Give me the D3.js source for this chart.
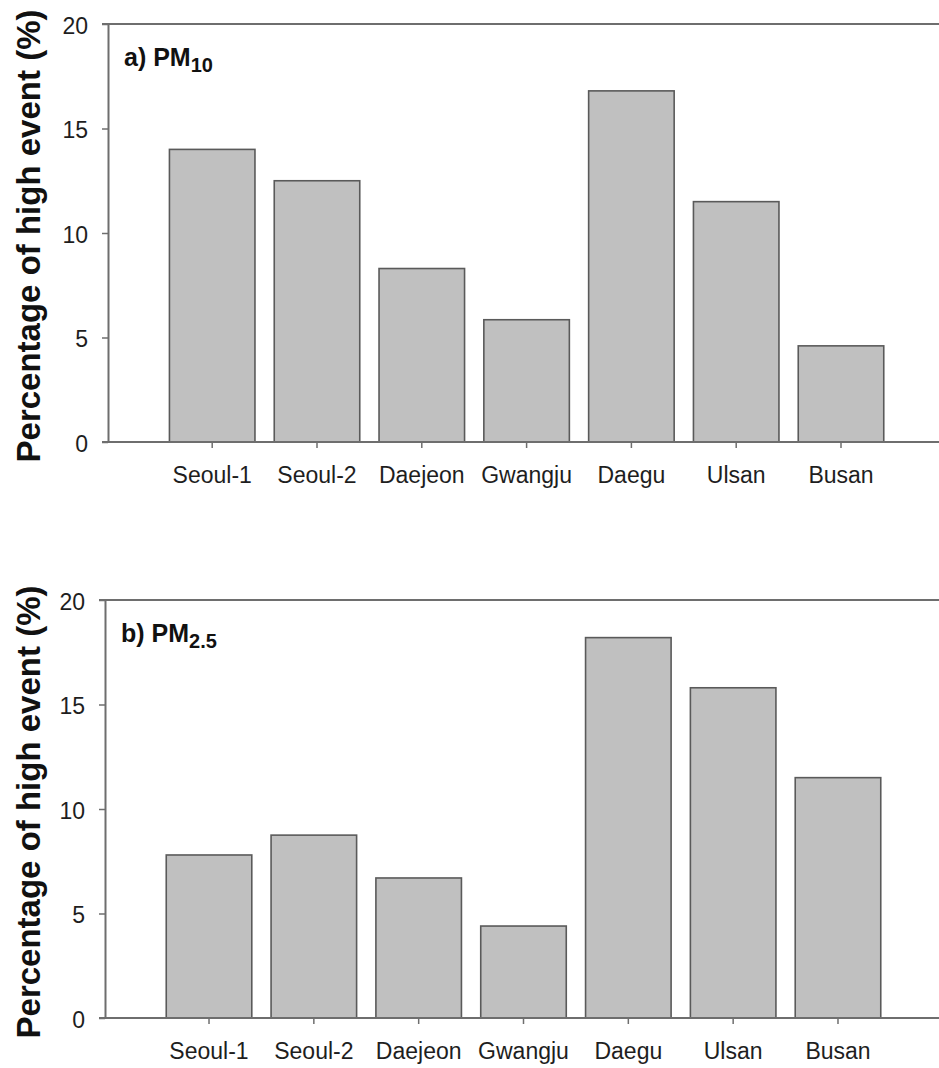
<!DOCTYPE html>
<html>
<head>
<meta charset="utf-8">
<script src="https://cdn.jsdelivr.net/npm/d3@7"></script>
<style>
  html, body { margin: 0; padding: 0; background: #fff; }
  svg { display: block; font-family: "Liberation Sans", Arial, sans-serif; }
</style>
</head>
<body>
<svg id="chart" width="939" height="1068"></svg>
<script>
// Monitoring sites
const sites = ["Seoul-1", "Seoul-2", "Daejeon", "Gwangju", "Daegu", "Ulsan", "Busan"];

// Percentage of high-concentration events at each site (%)
const pm10Values = [14.0, 12.5, 8.3, 5.85, 16.8, 11.5, 4.6];
const pm25Values = [7.8, 8.75, 6.7, 4.4, 18.2, 15.8, 11.5];

// Y axis ticks
const yTicks = [0, 5, 10, 15, 20];
const yTitle = "Percentage of high event (%)";

const svg = d3.select("#chart");
const W = 939;

const panels = [
  { values: pm10Values, label: "a) PM", sub: "10",
    axisX: 108, yTop: 24, yBottom: 442, xStart: 159.8, xEnd: 893.4 },
  { values: pm25Values, label: "b) PM", sub: "2.5",
    axisX: 105, yTop: 600, yBottom: 1018, xStart: 156.6, xEnd: 890.4 }
];

const axisColor = "#6e6e6e";
const textColor = "#1e1e1e";

panels.forEach(p => {
  const g = svg.append("g");

  const y = d3.scaleLinear().domain([0, 20]).range([p.yBottom, p.yTop]);
  const x = d3.scaleBand().domain(sites)
    .range([p.xStart, p.xEnd])
    .paddingInner(0.184)
    .paddingOuter(0.092);

  // Bars
  g.selectAll("rect.bar")
    .data(p.values)
    .join("rect")
    .attr("class", "bar")
    .attr("x", (d, i) => x(sites[i]))
    .attr("width", x.bandwidth())
    .attr("y", d => y(d))
    .attr("height", d => y(0) - y(d))
    .attr("fill", "#c0c0c0")
    .attr("stroke", "#5a5a5a")
    .attr("stroke-width", 1.6);

  // Y axis
  const yAxis = g.append("g")
    .attr("transform", `translate(${p.axisX},0)`)
    .call(d3.axisLeft(y).tickValues(yTicks).tickSize(6).tickSizeOuter(0).tickPadding(14));
  yAxis.select(".domain").attr("stroke", axisColor).attr("stroke-width", 2);
  yAxis.selectAll(".tick line").attr("stroke", axisColor).attr("stroke-width", 1.5);
  yAxis.selectAll(".tick text")
    .attr("fill", textColor)
    .attr("font-size", 23)
    .attr("dy", "0.4em");

  // Top frame line
  g.append("line")
    .attr("x1", p.axisX - 6).attr("x2", W)
    .attr("y1", y(20)).attr("y2", y(20))
    .attr("stroke", axisColor).attr("stroke-width", 2);

  // X axis
  const xAxis = g.append("g")
    .attr("transform", `translate(0,${p.yBottom})`)
    .call(d3.axisBottom(x).tickSize(6).tickSizeOuter(0));
  xAxis.select(".domain").remove();
  xAxis.selectAll(".tick line").attr("stroke", axisColor).attr("stroke-width", 1.5);
  xAxis.selectAll(".tick text")
    .attr("fill", textColor)
    .attr("font-size", 23)
    .attr("y", 41)
    .attr("dy", 0);

  // Baseline
  g.append("line")
    .attr("x1", p.axisX - 6).attr("x2", W)
    .attr("y1", y(0)).attr("y2", y(0))
    .attr("stroke", axisColor).attr("stroke-width", 2);

  // Panel label with subscript
  const lbl = g.append("text")
    .attr("x", p.axisX + 16)
    .attr("y", y(20) + 42)
    .attr("font-size", 25)
    .attr("font-weight", "bold")
    .attr("fill", "#111");
  lbl.append("tspan").text(p.label);
  lbl.append("tspan")
    .attr("font-size", 20)
    .attr("dy", 6)
    .text(p.sub);

  // Y axis title
  g.append("text")
    .attr("transform", `translate(40,${(p.yTop + p.yBottom) / 2 + 3}) rotate(-90)`)
    .attr("text-anchor", "middle")
    .attr("font-size", 33)
    .attr("font-weight", "bold")
    .attr("fill", "#111")
    .text(yTitle);
});
</script>
</body>
</html>
